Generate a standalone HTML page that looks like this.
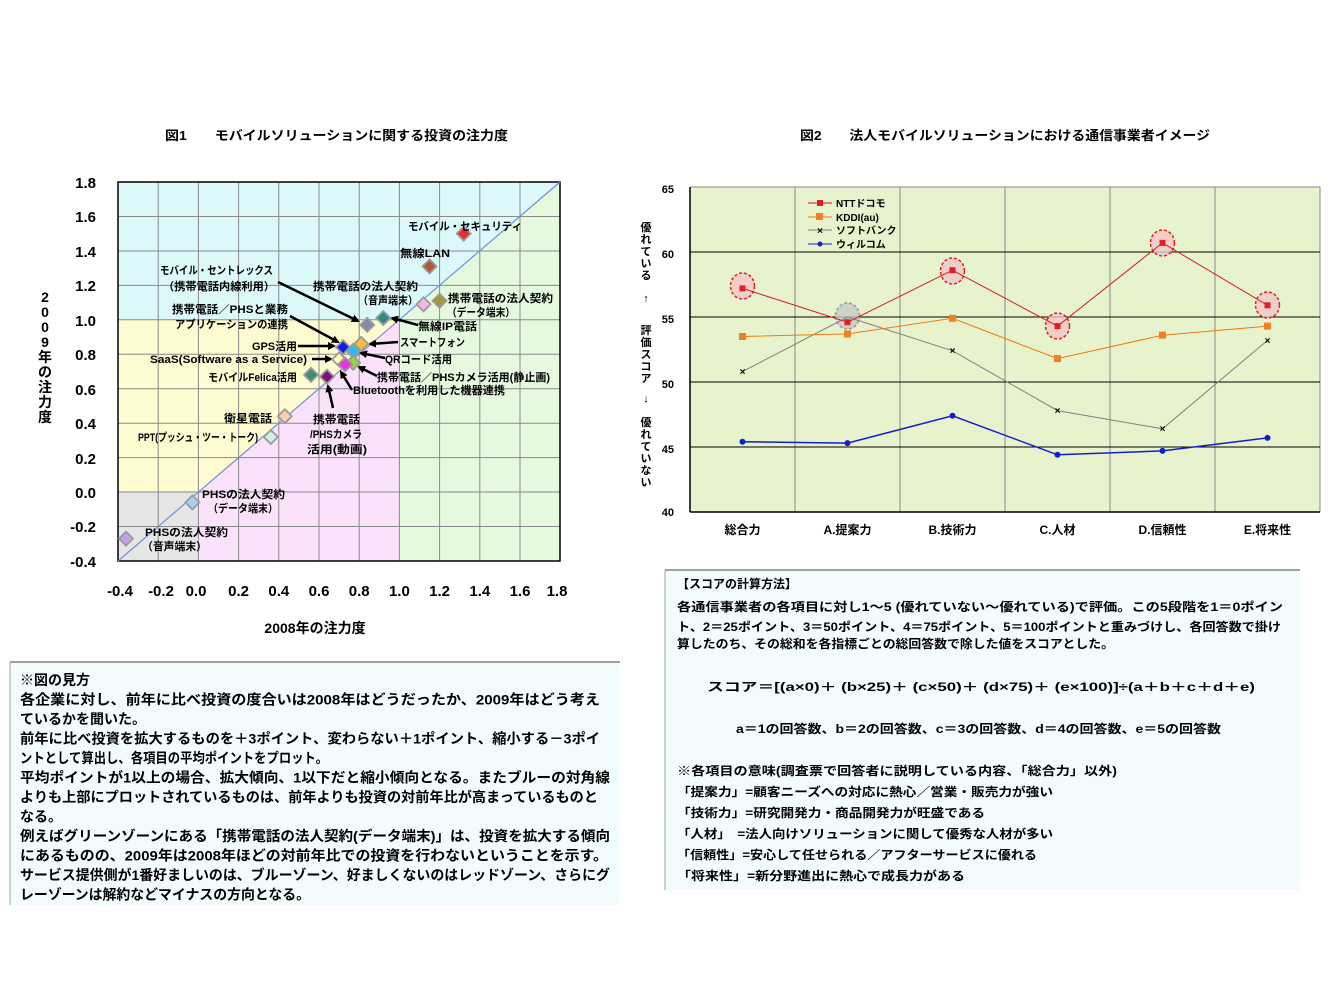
<!DOCTYPE html>
<html><head><meta charset="utf-8"><style>
html,body{margin:0;padding:0;background:#fff;}
svg{display:block;}
text{font-family:"Liberation Sans","Noto Sans CJK JP",sans-serif;font-weight:bold;fill:#000;}
</style></head><body>
<svg width="1344" height="1008" viewBox="0 0 1344 1008" xmlns="http://www.w3.org/2000/svg">
<defs>
<marker id="ah" markerWidth="8" markerHeight="8" refX="6" refY="4" orient="auto" markerUnits="userSpaceOnUse"><path d="M0,0 L8,4 L0,8 z" fill="#000"/></marker>
</defs>
<text x="165" y="140" font-size="13" textLength="343" lengthAdjust="spacingAndGlyphs">図1　　モバイルソリューションに関する投資の注力度</text>
<text x="800" y="140" font-size="13" textLength="410" lengthAdjust="spacingAndGlyphs">図2　　法人モバイルソリューションにおける通信事業者イメージ</text>

<polygon points="118,182 560,182 399.4,319.8 118,319.8" fill="#dcf8fa"/>
<polygon points="399.4,561 560,561 560,182 399.4,319.8" fill="#e4f9de"/>
<polygon points="118,319.8 399.4,319.8 198.4,492 118,492" fill="#fdfbcf"/>
<polygon points="198.4,561 399.4,561 399.4,319.8 198.4,492" fill="#fbe2fb"/>
<rect x="118" y="492" width="80.4" height="69" fill="#e6e6e6"/>
<g stroke="#8a8a8a" stroke-width="1">
<line x1="158.2" y1="182" x2="158.2" y2="561"/><line x1="198.4" y1="182" x2="198.4" y2="561"/><line x1="238.6" y1="182" x2="238.6" y2="561"/><line x1="278.8" y1="182" x2="278.8" y2="561"/><line x1="319" y1="182" x2="319" y2="561"/><line x1="359.2" y1="182" x2="359.2" y2="561"/><line x1="399.4" y1="182" x2="399.4" y2="561"/><line x1="439.6" y1="182" x2="439.6" y2="561"/><line x1="479.8" y1="182" x2="479.8" y2="561"/><line x1="520" y1="182" x2="520" y2="561"/>
<line x1="118" y1="216.5" x2="560" y2="216.5"/><line x1="118" y1="251" x2="560" y2="251"/><line x1="118" y1="285.4" x2="560" y2="285.4"/><line x1="118" y1="319.8" x2="560" y2="319.8"/><line x1="118" y1="354.3" x2="560" y2="354.3"/><line x1="118" y1="388.8" x2="560" y2="388.8"/><line x1="118" y1="423.2" x2="560" y2="423.2"/><line x1="118" y1="457.6" x2="560" y2="457.6"/><line x1="118" y1="492" x2="560" y2="492"/><line x1="118" y1="526.5" x2="560" y2="526.5"/>
</g>
<rect x="118" y="182" width="442" height="379" fill="none" stroke="#000" stroke-width="1.5"/>
<line x1="118" y1="561" x2="560" y2="182" stroke="#6f8fd9" stroke-width="1.2"/>
<g font-size="15" text-anchor="end">
<text x="96" y="188">1.8</text><text x="96" y="222">1.6</text><text x="96" y="257">1.4</text><text x="96" y="291">1.2</text><text x="96" y="326">1.0</text><text x="96" y="360">0.8</text><text x="96" y="395">0.6</text><text x="96" y="429">0.4</text><text x="96" y="464">0.2</text><text x="96" y="498">0.0</text><text x="96" y="532">-0.2</text><text x="96" y="567">-0.4</text>
</g>
<g font-size="15" text-anchor="middle">
<text x="120" y="596">-0.4</text><text x="161" y="596">-0.2</text><text x="196" y="596">0.0</text><text x="238.6" y="596">0.2</text><text x="278.8" y="596">0.4</text><text x="319" y="596">0.6</text><text x="359.2" y="596">0.8</text><text x="399.4" y="596">1.0</text><text x="439.6" y="596">1.2</text><text x="479.8" y="596">1.4</text><text x="520" y="596">1.6</text><text x="557" y="596">1.8</text>
</g>
<text x="315" y="633" font-size="14" text-anchor="middle">2008年の注力度</text>
<g font-size="14" text-anchor="middle">
<text x="45" y="302">2</text><text x="45" y="317">0</text><text x="45" y="332">0</text><text x="45" y="347">9</text><text x="45" y="362">年</text><text x="45" y="377">の</text><text x="45" y="392">注</text><text x="45" y="407">力</text><text x="45" y="422">度</text>
</g>
<g stroke="#000" stroke-width="2.5" marker-end="url(#ah)">
<line x1="278" y1="282" x2="358" y2="321"/>
<line x1="290" y1="316" x2="338" y2="342"/>
<line x1="298" y1="346" x2="334" y2="346"/>
<line x1="312" y1="359" x2="331" y2="359"/>
<line x1="418" y1="325" x2="392" y2="318"/>
<line x1="398" y1="342" x2="370" y2="344"/>
<line x1="385" y1="358" x2="361" y2="353"/>
<line x1="377" y1="376" x2="359" y2="367"/>
<line x1="352" y1="390" x2="341" y2="372"/>
<line x1="333" y1="408" x2="328" y2="386"/>
</g>
<g stroke="#9a9a9a" stroke-width="1.8">
<path d="M463.7,226.6 l7,7 l-7,7 l-7,-7z" fill="#ee2a2a"/>
<path d="M429.6,259.4 l7,7 l-7,7 l-7,-7z" fill="#b5543c"/>
<path d="M423.5,297.3 l7,7 l-7,7 l-7,-7z" fill="#f4b8e8"/>
<path d="M439.6,293.8 l7,7 l-7,7 l-7,-7z" fill="#a09a3a"/>
<path d="M383.3,311 l7,7 l-7,7 l-7,-7z" fill="#2a8a8a"/>
<path d="M367.2,317.9 l7,7 l-7,7 l-7,-7z" fill="#8888aa"/>
<path d="M361.2,336.9 l7,7 l-7,7 l-7,-7z" fill="#f5c030"/>
<path d="M343.1,340.3 l7,7 l-7,7 l-7,-7z" fill="#1020e0"/>
<path d="M353.2,343.8 l7,7 l-7,7 l-7,-7z" fill="#30b8f0"/>
<path d="M339.1,352.4 l7,7 l-7,7 l-7,-7z" fill="#fff8b0"/>
<path d="M353.2,355.8 l7,7 l-7,7 l-7,-7z" fill="#9acd40"/>
<path d="M345.1,357.5 l7,7 l-7,7 l-7,-7z" fill="#f030e0"/>
<path d="M311,367.9 l7,7 l-7,7 l-7,-7z" fill="#3a9070"/>
<path d="M327,369.6 l7,7 l-7,7 l-7,-7z" fill="#801080"/>
<path d="M284.8,409.3 l7,7 l-7,7 l-7,-7z" fill="#f8d0b0"/>
<path d="M270.8,430 l7,7 l-7,7 l-7,-7z" fill="#d0f0e8"/>
<path d="M192.4,495.4 l7,7 l-7,7 l-7,-7z" fill="#a8d0f8"/>
<path d="M126,531.6 l7,7 l-7,7 l-7,-7z" fill="#c8a0e8"/>
</g>
<g font-size="11">
<text x="408" y="230" textLength="114" lengthAdjust="spacingAndGlyphs">モバイル・セキュリティ</text>
<text x="400" y="257" textLength="50" lengthAdjust="spacingAndGlyphs">無線LAN</text>
<text x="160" y="274" textLength="113" lengthAdjust="spacingAndGlyphs">モバイル・セントレックス</text>
<text x="163" y="290" textLength="112" lengthAdjust="spacingAndGlyphs">（携帯電話内線利用）</text>
<text x="313" y="290" textLength="105" lengthAdjust="spacingAndGlyphs">携帯電話の法人契約</text>
<text x="358" y="304" textLength="60" lengthAdjust="spacingAndGlyphs">（音声端末）</text>
<text x="448" y="302" textLength="105" lengthAdjust="spacingAndGlyphs">携帯電話の法人契約</text>
<text x="447" y="316" textLength="68" lengthAdjust="spacingAndGlyphs">（データ端末）</text>
<text x="172" y="313" textLength="116" lengthAdjust="spacingAndGlyphs">携帯電話／PHSと業務</text>
<text x="175" y="328" textLength="113" lengthAdjust="spacingAndGlyphs">アプリケーションの連携</text>
<text x="418" y="330" textLength="59" lengthAdjust="spacingAndGlyphs">無線IP電話</text>
<text x="400" y="346" textLength="65" lengthAdjust="spacingAndGlyphs">スマートフォン</text>
<text x="252" y="350" textLength="45" lengthAdjust="spacingAndGlyphs">GPS活用</text>
<text x="150" y="363" textLength="157" lengthAdjust="spacingAndGlyphs">SaaS(Software as a Service)</text>
<text x="385" y="363" textLength="67" lengthAdjust="spacingAndGlyphs">QRコード活用</text>
<text x="208" y="381" textLength="89" lengthAdjust="spacingAndGlyphs">モバイルFelica活用</text>
<text x="377" y="381" textLength="173" lengthAdjust="spacingAndGlyphs">携帯電話／PHSカメラ活用(静止画)</text>
<text x="353" y="394" textLength="152" lengthAdjust="spacingAndGlyphs">Bluetoothを利用した機器連携</text>
<text x="224" y="422" textLength="48" lengthAdjust="spacingAndGlyphs">衛星電話</text>
<text x="313" y="423" textLength="47" lengthAdjust="spacingAndGlyphs">携帯電話</text>
<text x="310" y="438" textLength="52" lengthAdjust="spacingAndGlyphs">/PHSカメラ</text>
<text x="307" y="453" textLength="60" lengthAdjust="spacingAndGlyphs">活用(動画)</text>
<text x="138" y="441" textLength="120" lengthAdjust="spacingAndGlyphs">PPT(プッシュ・ツー・トーク)</text>
<text x="202" y="498" textLength="83" lengthAdjust="spacingAndGlyphs">PHSの法人契約</text>
<text x="208" y="512" textLength="70" lengthAdjust="spacingAndGlyphs">（データ端末）</text>
<text x="145" y="536" textLength="83" lengthAdjust="spacingAndGlyphs">PHSの法人契約</text>
<text x="142" y="550" textLength="65" lengthAdjust="spacingAndGlyphs">（音声端末）</text>
</g>

<rect x="690" y="187" width="630" height="325" fill="#e7f3cd"/>
<g stroke="#8a8a8a" stroke-width="1">
<line x1="795" y1="187" x2="795" y2="512"/><line x1="900" y1="187" x2="900" y2="512"/><line x1="1005" y1="187" x2="1005" y2="512"/><line x1="1110" y1="187" x2="1110" y2="512"/><line x1="1215" y1="187" x2="1215" y2="512"/><line x1="1320" y1="187" x2="1320" y2="512"/>
</g>
<g stroke="#000" stroke-width="1">
<line x1="690" y1="187" x2="1320" y2="187" stroke="#8a8a8a"/>
<line x1="690" y1="252" x2="1320" y2="252"/><line x1="690" y1="317" x2="1320" y2="317"/><line x1="690" y1="382" x2="1320" y2="382"/><line x1="690" y1="447" x2="1320" y2="447"/>
<line x1="690" y1="512" x2="1320" y2="512" stroke-width="1.5"/><line x1="690" y1="187" x2="690" y2="512" stroke-width="1.5"/>
</g>
<g font-size="11" text-anchor="end">
<text x="674" y="193">65</text><text x="674" y="258">60</text><text x="674" y="323">55</text><text x="674" y="388">50</text><text x="674" y="453">45</text><text x="674" y="516">40</text>
</g>
<g font-size="12" text-anchor="middle">
<text x="742.5" y="534">総合力</text><text x="847.5" y="534">A.提案力</text><text x="952.5" y="534">B.技術力</text><text x="1057.5" y="534">C.人材</text><text x="1162.5" y="534">D.信頼性</text><text x="1267.5" y="534">E.将来性</text>
</g>
<g font-size="11" text-anchor="middle">
<text x="646" y="231">優</text><text x="646" y="243">れ</text><text x="646" y="255">て</text><text x="646" y="267">い</text><text x="646" y="279">る</text><text x="646" y="302">↑</text>
<text x="646" y="334">評</text><text x="646" y="346">価</text><text x="646" y="358">ス</text><text x="646" y="370">コ</text><text x="646" y="382">ア</text><text x="646" y="402">↓</text>
<text x="646" y="426">優</text><text x="646" y="438">れ</text><text x="646" y="450">て</text><text x="646" y="462">い</text><text x="646" y="474">な</text><text x="646" y="486">い</text>
</g>
<g fill="#f3c4c8" fill-opacity="0.8" stroke="#e02020" stroke-width="1.5" stroke-dasharray="3,2">
<ellipse cx="742.5" cy="286" rx="12" ry="13"/>
<ellipse cx="952.5" cy="271" rx="12" ry="13"/>
<ellipse cx="1057.5" cy="326" rx="12" ry="13"/>
<ellipse cx="1162.5" cy="243" rx="12" ry="13"/>
<ellipse cx="1267.5" cy="305" rx="12" ry="13"/>
</g>
<ellipse cx="847.5" cy="316" rx="12" ry="13" fill="#c8c8c8" fill-opacity="0.8" stroke="#999" stroke-width="1.5" stroke-dasharray="3,2"/>
<polyline points="742.5,441.8 847.5,443.1 952.5,415.8 1057.5,454.8 1162.5,450.9 1267.5,437.9" fill="none" stroke="#1020d0" stroke-width="1.5"/>
<polyline points="742.5,371.6 847.5,317 952.5,350.8 1057.5,410.6 1162.5,428.8 1267.5,340.4" fill="none" stroke="#808080" stroke-width="1"/>
<polyline points="742.5,336.5 847.5,333.9 952.5,318.3 1057.5,358.6 1162.5,335.2 1267.5,326.1" fill="none" stroke="#f07a10" stroke-width="1"/>
<polyline points="742.5,288.4 847.5,322.2 952.5,270.2 1057.5,326.1 1162.5,242.9 1267.5,305.3" fill="none" stroke="#d02020" stroke-width="1"/>
<g fill="#1020d0">
<circle cx="742.5" cy="441.8" r="3"/><circle cx="847.5" cy="443.1" r="3"/><circle cx="952.5" cy="415.8" r="3"/><circle cx="1057.5" cy="454.8" r="3"/><circle cx="1162.5" cy="450.9" r="3"/><circle cx="1267.5" cy="437.9" r="3"/>
</g>
<g fill="#f08020">
<rect x="739" y="333" width="7" height="7"/><rect x="844" y="330.4" width="7" height="7"/><rect x="949" y="314.8" width="7" height="7"/><rect x="1054" y="355.1" width="7" height="7"/><rect x="1159" y="331.7" width="7" height="7"/><rect x="1264" y="322.6" width="7" height="7"/>
</g>
<g fill="#e02020">
<rect x="739.5" y="285.4" width="6" height="6"/><rect x="844.5" y="319.2" width="6" height="6"/><rect x="949.5" y="267.2" width="6" height="6"/><rect x="1054.5" y="323.1" width="6" height="6"/><rect x="1159.5" y="239.9" width="6" height="6"/><rect x="1264.5" y="302.3" width="6" height="6"/>
</g>
<g font-size="10" text-anchor="middle">
<text x="742.5" y="375" fill="#808080">×</text><text x="1057.5" y="414" fill="#808080">×</text><text x="1162.5" y="432" fill="#808080">×</text><text x="1267.5" y="344" fill="#808080">×</text><text x="952.5" y="354" fill="#808080">×</text>
</g>
<g font-size="10">
<line x1="808" y1="203" x2="832" y2="203" stroke="#d02020"/><rect x="817" y="200" width="6" height="6" fill="#e02020"/><text x="836" y="207" font-weight="normal">NTTドコモ</text>
<line x1="808" y1="217" x2="832" y2="217" stroke="#f07a10"/><rect x="816" y="213" width="7" height="7" fill="#f08020"/><text x="836" y="221" font-weight="normal">KDDI(au)</text>
<line x1="808" y1="230" x2="832" y2="230" stroke="#808080"/><text x="820" y="234" fill="#808080" text-anchor="middle">×</text><text x="836" y="234" font-weight="normal">ソフトバンク</text>
<line x1="808" y1="244" x2="832" y2="244" stroke="#1020d0"/><circle cx="820" cy="244" r="2.5" fill="#1020d0"/><text x="836" y="248" font-weight="normal">ウィルコム</text>
</g>

<rect x="10" y="662" width="610" height="243" fill="#f2fcfd"/>
<line x1="10" y1="662" x2="620" y2="662" stroke="#a0a0a0" stroke-width="2"/>
<line x1="10" y1="662" x2="10" y2="905" stroke="#a0a0a0" stroke-width="1"/>
<g font-size="14">
<text x="20" y="685">※図の見方</text>
<text x="20" y="704.5" textLength="580" lengthAdjust="spacingAndGlyphs">各企業に対し、前年に比べ投資の度合いは2008年はどうだったか、2009年はどう考え</text>
<text x="20" y="724">ているかを聞いた。</text>
<text x="20" y="743.5" textLength="580" lengthAdjust="spacingAndGlyphs">前年に比べ投資を拡大するものを＋3ポイント、変わらない＋1ポイント、縮小する－3ポイ</text>
<text x="20" y="763" textLength="308" lengthAdjust="spacingAndGlyphs">ントとして算出し、各項目の平均ポイントをプロット。</text>
<text x="20" y="782.5" textLength="590" lengthAdjust="spacingAndGlyphs">平均ポイントが1以上の場合、拡大傾向、1以下だと縮小傾向となる。またブルーの対角線</text>
<text x="20" y="802" textLength="578" lengthAdjust="spacingAndGlyphs">よりも上部にプロットされているものは、前年よりも投資の対前年比が高まっているものと</text>
<text x="20" y="821.5">なる。</text>
<text x="20" y="841" textLength="590" lengthAdjust="spacingAndGlyphs">例えばグリーンゾーンにある「携帯電話の法人契約(データ端末)」は、投資を拡大する傾向</text>
<text x="20" y="860.5" textLength="588" lengthAdjust="spacingAndGlyphs">にあるものの、2009年は2008年ほどの対前年比での投資を行わないということを示す。</text>
<text x="20" y="880" textLength="590" lengthAdjust="spacingAndGlyphs">サービス提供側が1番好ましいのは、ブルーゾーン、好ましくないのはレッドゾーン、さらにグ</text>
<text x="20" y="899.5" textLength="290" lengthAdjust="spacingAndGlyphs">レーゾーンは解約などマイナスの方向となる。</text>
</g>

<rect x="665" y="570" width="635" height="320" fill="#f2fcfd"/>
<line x1="665" y1="570" x2="1300" y2="570" stroke="#a0a0a0" stroke-width="2"/>
<line x1="665" y1="570" x2="665" y2="890" stroke="#a0a0a0" stroke-width="1"/>
<g font-size="12">
<text x="677" y="588">【スコアの計算方法】</text>
<text x="677" y="611" textLength="606" lengthAdjust="spacingAndGlyphs">各通信事業者の各項目に対し1～5 (優れていない～優れている)で評価。この5段階を1＝0ポイン</text>
<text x="677" y="631" textLength="604" lengthAdjust="spacingAndGlyphs">ト、2＝25ポイント、3＝50ポイント、4＝75ポイント、5＝100ポイントと重みづけし、各回答数で掛け</text>
<text x="677" y="648" textLength="437" lengthAdjust="spacingAndGlyphs">算したのち、その総和を各指標ごとの総回答数で除した値をスコアとした。</text>
<text x="707" y="691" textLength="548" lengthAdjust="spacingAndGlyphs">スコア＝[(a×0)＋ (b×25)＋ (c×50)＋ (d×75)＋ (e×100)]÷(a＋b＋c＋d＋e)</text>
<text x="736" y="733" textLength="485" lengthAdjust="spacingAndGlyphs">a＝1の回答数、b＝2の回答数、c＝3の回答数、d＝4の回答数、e＝5の回答数</text>
<text x="677" y="775" textLength="440" lengthAdjust="spacingAndGlyphs">※各項目の意味(調査票で回答者に説明している内容、「総合力」以外)</text>
<text x="677" y="796" textLength="376" lengthAdjust="spacingAndGlyphs">「提案力」=顧客ニーズへの対応に熱心／営業・販売力が強い</text>
<text x="677" y="817" textLength="308" lengthAdjust="spacingAndGlyphs">「技術力」=研究開発力・商品開発力が旺盛である</text>
<text x="677" y="838" textLength="376" lengthAdjust="spacingAndGlyphs">「人材」　=法人向けソリューションに関して優秀な人材が多い</text>
<text x="677" y="859" textLength="360" lengthAdjust="spacingAndGlyphs">「信頼性」=安心して任せられる／アフターサービスに優れる</text>
<text x="677" y="880" textLength="288" lengthAdjust="spacingAndGlyphs">「将来性」=新分野進出に熱心で成長力がある</text>
</g>
</svg>
</body></html>
